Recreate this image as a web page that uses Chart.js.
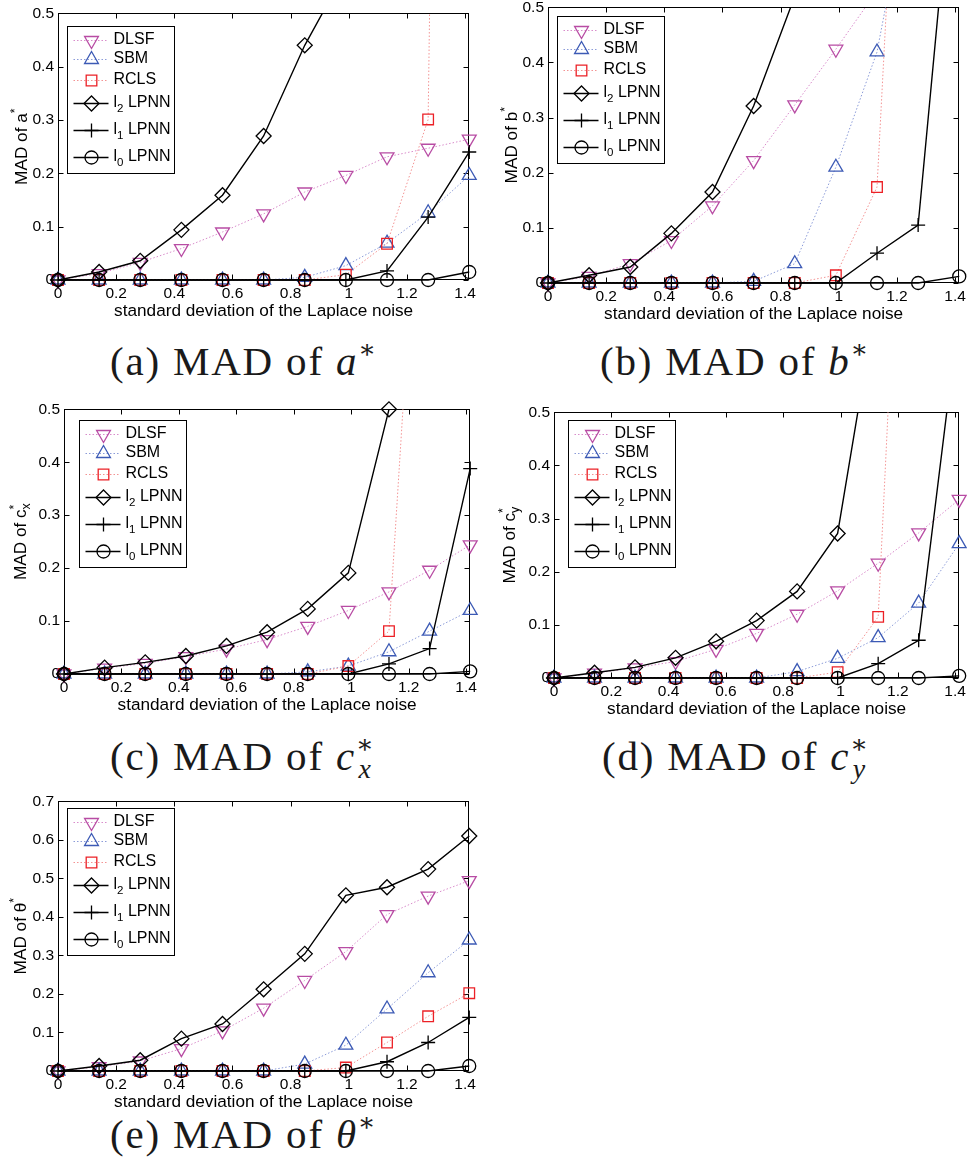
<!DOCTYPE html>
<html><head><meta charset="utf-8">
<script src="https://cdn.jsdelivr.net/npm/chart.js@4.4.1/dist/chart.umd.min.js"></script>
<style>
html,body{margin:0;padding:0;background:#fff;width:967px;height:1174px;overflow:hidden;position:relative;}
canvas{position:absolute;}
.cap{position:absolute;font-family:'Liberation Serif','Times New Roman',serif;font-size:41px;line-height:40px;letter-spacing:1.8px;white-space:nowrap;color:#1a1a1a;}
.cap .sup{font-family:'DejaVu Serif',serif;font-size:26px;vertical-align:17px;line-height:0;letter-spacing:0;}
.cap .sub{font-size:28px;font-style:italic;vertical-align:-8px;line-height:0;letter-spacing:0;}
</style></head><body>
<div class="cap" id="capA" style="left:110px;top:341px">(a) MAD of <i>a</i><span class="sup">∗</span></div>
<div class="cap" id="capB" style="left:600px;top:341px">(b) MAD of <i>b</i><span class="sup">∗</span></div>
<div class="cap" id="capC" style="left:110px;top:736px">(c) MAD of <i>c</i><span class="sup">∗</span><span class="sub" style="margin-left:-15px">x</span></div>
<div class="cap" id="capD" style="left:602px;top:736px">(d) MAD of <i>c</i><span class="sup">∗</span><span class="sub" style="margin-left:-15px">y</span></div>
<div class="cap" id="capE" style="left:110px;top:1114px">(e) MAD of <i>θ</i><span class="sup">∗</span></div>
<script>
// ---------------- data ----------------
const xValues = [0, 0.1414, 0.2828, 0.4243, 0.5657, 0.7071, 0.8485, 0.9899, 1.1314, 1.2728, 1.4142];
const xTickValues = [0, 0.2, 0.4, 0.6, 0.8, 1, 1.2, 1.4];
const yTicks05 = [0, 0.1, 0.2, 0.3, 0.4, 0.5];
const yTicks07 = [0, 0.1, 0.2, 0.3, 0.4, 0.5, 0.6, 0.7];
const seriesLabels = ['DLSF', 'SBM', 'RCLS', 'l2 LPNN', 'l1 LPNN', 'l0 LPNN'];
const xAxisTitle = 'standard deviation of the Laplace noise';

// (a) MAD of a*
const a_DLSF = [0, 0.012, 0.033, 0.059, 0.090, 0.124, 0.165, 0.196, 0.231, 0.247, 0.264];
const a_SBM  = [0, 0, 0, 0, 0, 0, 0.005, 0.027, 0.069, 0.126, 0.196];
const a_RCLS = [0, 0, 0, 0, 0, 0, 0, 0.010, 0.068, 0.301, 6.0];
const a_L2   = [0, 0.015, 0.036, 0.094, 0.159, 0.270, 0.440, 0.58, 0.80, 1.10, 1.50];
const a_L1   = [0, 0, 0, 0, 0, 0, 0, 0, 0.017, 0.118, 0.240];
const a_L0   = [0, 0, 0, 0, 0, 0, 0, 0, 0, 0, 0.015];
// (b) MAD of b*
const b_DLSF = [0, 0.012, 0.035, 0.077, 0.140, 0.222, 0.323, 0.424, 0.53, 0.65, 0.80];
const b_SBM  = [0, 0, 0, 0, 0, 0.003, 0.035, 0.210, 0.419, 0.81, 1.2];
const b_RCLS = [0, 0, 0, 0, 0, 0, 0, 0.014, 0.174, 1.6, 3.0];
const b_L2   = [0, 0.014, 0.029, 0.090, 0.165, 0.321, 0.52, 0.8, 1.1, 1.4, 1.7];
const b_L1   = [0, 0, 0, 0, 0, 0, 0, 0, 0.054, 0.105, 0.90];
const b_L0   = [0, 0, 0, 0, 0, 0, 0, 0, 0, 0, 0.012];
// (c) MAD of cx*
const c_DLSF = [0, 0.011, 0.020, 0.033, 0.047, 0.065, 0.090, 0.120, 0.155, 0.196, 0.244];
const c_SBM  = [0, 0, 0, 0, 0, 0, 0.004, 0.015, 0.042, 0.081, 0.120];
const c_RCLS = [0, 0, 0, 0, 0, 0, 0, 0.015, 0.081, 1.3, 2.5];
const c_L2   = [0, 0.012, 0.022, 0.034, 0.053, 0.079, 0.123, 0.191, 0.500, 1.0, 1.5];
const c_L1   = [0, 0, 0, 0, 0, 0, 0, 0, 0.019, 0.048, 0.388];
const c_L0   = [0, 0, 0, 0, 0, 0, 0, 0, 0, 0, 0.005];
// (d) MAD of cy*
const d_DLSF = [0, 0.009, 0.019, 0.031, 0.054, 0.084, 0.120, 0.164, 0.216, 0.273, 0.336];
const d_SBM  = [0, 0, 0, 0, 0, 0, 0.012, 0.037, 0.076, 0.141, 0.253];
const d_RCLS = [0, 0, 0, 0, 0, 0, 0, 0.011, 0.115, 1.7, 3.0];
const d_L2   = [0, 0.010, 0.020, 0.038, 0.069, 0.108, 0.163, 0.272, 0.73, 1.2, 1.6];
const d_L1   = [0, 0, 0, 0, 0, 0, 0, 0, 0.027, 0.071, 0.69];
const d_L0   = [0, 0, 0, 0, 0, 0, 0, 0, 0, 0, 0.004];
// (e) MAD of theta*
const e_DLSF = [0, 0.011, 0.026, 0.058, 0.104, 0.163, 0.235, 0.310, 0.406, 0.454, 0.494];
const e_SBM  = [0, 0, 0, 0, 0, 0, 0.018, 0.067, 0.161, 0.255, 0.340];
const e_RCLS = [0, 0, 0, 0, 0, 0, 0, 0.009, 0.074, 0.142, 0.202];
const e_L2   = [0, 0.013, 0.028, 0.084, 0.122, 0.212, 0.304, 0.456, 0.477, 0.524, 0.610];
const e_L1   = [0, 0, 0, 0, 0, 0, 0, 0, 0.024, 0.074, 0.139];
const e_L0   = [0, 0, 0, 0, 0, 0, 0, 0, 0, 0, 0.013];

// ---------------- styles / layout ----------------
const FONT = "'Liberation Sans', Arial, Helvetica, sans-serif";
Chart.defaults.font.family = FONT;
Chart.defaults.color = '#000';
const TICK_SIZE = 15.5, TITLE_SIZE = 17.2, LEG_SIZE = 16;

const STYLES = [
  {color:'#b84ca4', line:'#d98ccb', dash:[1.5,2], style:'triangle', rot:180, r:8, lw:1},
  {color:'#3c5ab5', line:'#8b9bd8', dash:[1.5,2], style:'triangle', rot:0, r:8, lw:1},
  {color:'#ec2026', line:'#f39393', dash:[1.5,2], style:'rect', rot:0, r:7.5, lw:1},
  {color:'#000', line:'#000', dash:[], style:'rectRot', rot:0, r:7.5, lw:1.4},
  {color:'#000', line:'#000', dash:[], style:'cross', rot:0, r:7, lw:1.4},
  {color:'#000', line:'#000', dash:[], style:'circle', rot:0, r:6.5, lw:1.4},
];
const MARKER_LW = 1.3;

const PANELS = [
  {L:58, R:470, T:10, B:280, yMax:0.5, yTicks:yTicks05, series:[a_DLSF,a_SBM,a_RCLS,a_L2,a_L1,a_L0],
   ytitle:[{t:'MAD of a'},{t:'*',sup:true}], ytx:27, leg:[9,13]},
  {L:548, R:960, T:4, B:283, yMax:0.5, yTicks:yTicks05, series:[b_DLSF,b_SBM,b_RCLS,b_L2,b_L1,b_L0],
   ytitle:[{t:'MAD of b'},{t:'*',sup:true}], ytx:517, leg:[9,9]},
  {L:64, R:471, T:406, B:674, yMax:0.5, yTicks:yTicks05, series:[c_DLSF,c_SBM,c_RCLS,c_L2,c_L1,c_L0],
   ytitle:[{t:'MAD of c'},{t:'*',sup:true,stack:true},{t:'x',sub:true}], ytx:26, leg:[15,11]},
  {L:554, R:960, T:409, B:678, yMax:0.5, yTicks:yTicks05, series:[d_DLSF,d_SBM,d_RCLS,d_L2,d_L1,d_L0],
   ytitle:[{t:'MAD of c'},{t:'*',sup:true,stack:true},{t:'y',sub:true}], ytx:515, leg:[14,8]},
  {L:58, R:470, T:798, B:1071, yMax:0.7, yTicks:yTicks07, series:[e_DLSF,e_SBM,e_RCLS,e_L2,e_L1,e_L0],
   ytitle:[{t:'MAD of θ'},{t:'*',sup:true}], ytx:26, leg:[9,7]},
];

const LEG_W = 107, LEG_H = 147;
const LEG_ROWS = [14, 33, 54, 77, 104, 131];

function fmt(v){ return String(+(+v).toFixed(1)); }

function layoutRich(ctx, parts, base){
  let x = 0, stackEnd = null;
  for (const p of parts){
    p.size = (p.sup || p.sub) ? base*0.72 : base;
    p.shift = p.sup ? -base*0.5 : (p.sub ? base*0.3 : 0);
    ctx.font = p.size + 'px ' + FONT;
    p.w = ctx.measureText(p.t).width;
    p.x = x;
    if (p.stack){ stackEnd = x + p.w; }
    else { x += p.w; if (stackEnd !== null){ x = Math.max(x, stackEnd); stackEnd = null; } }
  }
  if (stackEnd !== null) x = Math.max(x, stackEnd);
  return x;
}
function drawRich(ctx, parts, x0, y0){
  ctx.textAlign = 'left';
  for (const p of parts){
    ctx.font = p.size + 'px ' + FONT;
    ctx.fillText(p.t, x0 + p.x, y0 + p.shift);
  }
}
function legendParts(label){
  const m = label.match(/^l(\d) (.*)$/);
  if (m) return [{t:'l'},{t:m[1],sub:true},{t:' '+m[2]}];
  return [{t:label}];
}
function drawMarker(ctx, st, x, y){
  ctx.save();
  ctx.strokeStyle = st.color; ctx.fillStyle = 'rgba(0,0,0,0)'; ctx.lineWidth = MARKER_LW; ctx.setLineDash([]);
  if (Chart.helpers && Chart.helpers.drawPoint){
    Chart.helpers.drawPoint(ctx, {pointStyle: st.style, rotation: st.rot, radius: st.r, borderWidth: MARKER_LW}, x, y);
  }
  ctx.restore();
}

function makePlugin(P){
  return {
    id: 'frame',
    beforeDatasetsDraw(chart){
      const {ctx, chartArea:a, scales} = chart;
      const l = Math.round(a.left)+0.5, r = Math.round(a.right)-0.5, t = Math.round(a.top)+0.5, b = Math.round(a.bottom)-0.5;
      ctx.save();
      ctx.strokeStyle = '#000'; ctx.lineWidth = 1;
      ctx.strokeRect(l, t, r-l, b-t);
      ctx.beginPath();
      const TL = 5;
      for (const v of xTickValues){
        const px = Math.round(scales.x.getPixelForValue(v))+0.5;
        ctx.moveTo(px, b); ctx.lineTo(px, b-TL);
        ctx.moveTo(px, t); ctx.lineTo(px, t+TL);
      }
      for (const v of P.yTicks){
        const py = Math.round(scales.y.getPixelForValue(v))+0.5;
        ctx.moveTo(l, py); ctx.lineTo(l+TL, py);
        ctx.moveTo(r, py); ctx.lineTo(r-TL, py);
      }
      ctx.stroke();
      ctx.restore();
    },
    afterDatasetsDraw(chart){
      const {ctx, chartArea:a} = chart;
      ctx.save();
      // legend
      const x0 = Math.round(a.left + P.leg[0]) + 0.5, y0 = Math.round(a.top + P.leg[1]) + 0.5;
      ctx.fillStyle = '#fff'; ctx.fillRect(x0, y0, LEG_W, LEG_H);
      ctx.strokeStyle = '#000'; ctx.lineWidth = 1; ctx.strokeRect(x0, y0, LEG_W, LEG_H);
      seriesLabels.forEach((lab, i) => {
        const st = STYLES[i];
        const y = y0 + LEG_ROWS[i];
        ctx.save();
        ctx.strokeStyle = st.line; ctx.lineWidth = st.lw; ctx.setLineDash(st.dash);
        ctx.beginPath(); ctx.moveTo(x0+6, y); ctx.lineTo(x0+41, y); ctx.stroke();
        ctx.restore();
        drawMarker(ctx, st, x0+24, y);
        ctx.fillStyle = '#000'; ctx.textBaseline = 'middle';
        const parts = legendParts(lab);
        layoutRich(ctx, parts, LEG_SIZE);
        parts.forEach(p => { if (p.sub) p.shift = 6; });
        drawRich(ctx, parts, x0+46, y-1);
      });
      // x title
      ctx.fillStyle = '#000'; ctx.textBaseline = 'alphabetic'; ctx.textAlign = 'center';
      ctx.font = TITLE_SIZE + 'px ' + FONT;
      ctx.fillText(xAxisTitle, (a.left + a.right)/2, a.bottom + 36);
      // y title (rotated)
      const parts = P.ytitle.map(p => Object.assign({}, p));
      const w = layoutRich(ctx, parts, TITLE_SIZE);
      parts.forEach(p => { if (p.sup) p.shift = -8; if (p.sub) p.shift = 4; });
      ctx.translate(P.ytxCanvas, (a.top + a.bottom)/2);
      ctx.rotate(-Math.PI/2);
      drawRich(ctx, parts, -w/2, 0);
      ctx.restore();
    }
  };
}

PANELS.forEach((P) => {
  const cv = document.createElement('canvas');
  const W = (P.R - P.L) + 70, H = (P.B - P.T) + 70;
  cv.width = W; cv.height = H;
  cv.style.left = (P.L - 60) + 'px'; cv.style.top = (P.T - 10) + 'px';
  cv.style.width = W + 'px'; cv.style.height = H + 'px';
  document.body.appendChild(cv);
  P.ytxCanvas = P.ytx - (P.L - 60);
  const datasets = [];
  P.series.forEach((vals, i) => {
    const st = STYLES[i];
    const pts = xValues.map((x, k) => ({x, y: vals[k]}));
    datasets.push({
      label: seriesLabels[i] + ' line', data: pts, borderColor: st.line, borderWidth: st.lw,
      borderDash: st.dash, pointRadius: 0, fill: false, tension: 0,
      clip: {left: 10, right: 10, top: 0, bottom: 10}, order: 100 - 2*i
    });
    datasets.push({
      label: seriesLabels[i], data: pts, showLine: false,
      pointStyle: st.style, pointRotation: st.rot,
      pointRadius: c => (c.raw && c.raw.y > P.yMax + 1e-9) ? 0 : st.r,
      pointBorderColor: st.color, pointBackgroundColor: 'rgba(0,0,0,0)', pointBorderWidth: MARKER_LW,
      clip: false, order: 99 - 2*i
    });
  });
  new Chart(cv.getContext('2d'), {
    type: 'line',
    data: {datasets},
    options: {
      responsive: false, animation: false, events: [],
      layout: {padding: {left: 0, top: 10, right: 10, bottom: 0}, autoPadding: false},
      plugins: {legend: {display: false}, tooltip: {enabled: false}},
      scales: {
        x: {
          type: 'linear', min: 0, max: 1.4142,
          afterBuildTicks: s => { s.ticks = xTickValues.map(v => ({value: v})); },
          afterFit: s => { s.height = 60; },
          grid: {display: false, drawTicks: false}, border: {display: false},
          ticks: {padding: 4, autoSkip: false, maxRotation: 0, font: {size: TICK_SIZE}, color: '#000', callback: v => fmt(v)}
        },
        y: {
          type: 'linear', min: 0, max: P.yMax,
          afterBuildTicks: s => { s.ticks = P.yTicks.map(v => ({value: v})); },
          afterFit: s => { s.width = 60; },
          grid: {display: false, drawTicks: false}, border: {display: false},
          ticks: {padding: 4, autoSkip: false, font: {size: TICK_SIZE}, color: '#000', callback: v => fmt(v)}
        }
      }
    },
    plugins: [makePlugin(P)]
  });
});
</script>
</body></html>
